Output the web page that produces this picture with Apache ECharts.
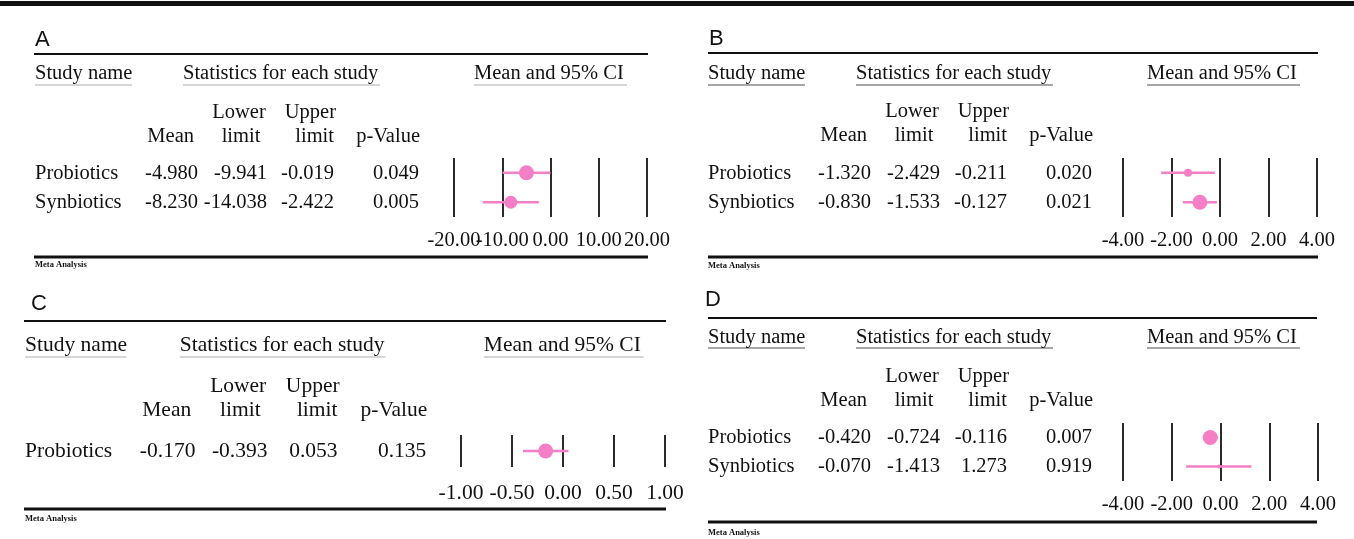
<!DOCTYPE html>
<html><head><meta charset="utf-8">
<script src="https://cdn.jsdelivr.net/npm/echarts@6/dist/echarts.min.js"></script>
<style>html,body{margin:0;padding:0;background:#fff}#c{width:1354px;height:539px}</style>
</head><body><div id="c"></div>
<script>
// ---------------- data ----------------
const studiesA = ['Probiotics', 'Synbiotics'];
const meanA = [-4.980, -8.230];
const lowerA = [-9.941, -14.038];
const upperA = [-0.019, -2.422];
const pValueA = [0.049, 0.005];
const axisA = { min: -20, max: 20, interval: 10 };

const studiesB = ['Probiotics', 'Synbiotics'];
const meanB = [-1.320, -0.830];
const lowerB = [-2.429, -1.533];
const upperB = [-0.211, -0.127];
const pValueB = [0.020, 0.021];
const axisB = { min: -4, max: 4, interval: 2 };

const studiesC = ['Probiotics'];
const meanC = [-0.170];
const lowerC = [-0.393];
const upperC = [0.053];
const pValueC = [0.135];
const axisC = { min: -1, max: 1, interval: 0.5 };

const studiesD = ['Probiotics', 'Synbiotics'];
const meanD = [-0.420, -0.070];
const lowerD = [-0.724, -1.413];
const upperD = [-0.116, 1.273];
const pValueD = [0.007, 0.919];
const axisD = { min: -4, max: 4, interval: 2 };

const panelLetters = ['A', 'B', 'C', 'D'];
const headerTitles = ['Study name', 'Statistics for each study', 'Mean and 95% CI'];
const colTop = ['Lower', 'Upper'];
const colBottom = ['Mean', 'limit', 'limit', 'p-Value'];
const footerText = 'Meta Analysis';

// ---------------- styles / layout ----------------
const PINK = '#f57fc6', INK = '#111111', GRIDC = '#2a2a2a';
const SERIF = '"Liberation Serif","Times New Roman",serif';
const SANS = '"Liberation Sans",Arial,sans-serif';

const panels = [
  { d: [studiesA, meanA, lowerA, upperA, pValueA, axisA], fx: x => x, fs: 20.5,
    letterX: 35, rule: [34, 648], ulColor: '#c8c8c8', grid: [454, 647], sizes: [15, 13],
    y: { letter: 39.5, rule: 54, head: 74, ul: 85, top1: 113, top2: 137, gTop: 158, gBot: 217, label: 24, bot: 257, meta: 265 } },
  { d: [studiesB, meanB, lowerB, upperB, pValueB, axisB], fx: x => x + 673, fs: 20.5,
    letterX: 709, rule: [708, 1318], ulColor: '#8a8a8a', grid: [1123, 1317], sizes: [8, 15],
    y: { letter: 39, rule: 53, head: 74, ul: 85, top1: 112, top2: 136, gTop: 158, gBot: 217, label: 24, bot: 257, meta: 266 } },
  { d: [studiesC, meanC, lowerC, upperC, pValueC, axisC], fx: x => 24 + (x - 34) * 1.045, fs: 21.5,
    letterX: 31, rule: [24, 666], ulColor: '#c8c8c8', grid: [461, 665], sizes: [15],
    y: { letter: 304, rule: 321, head: 345, ul: 357, top1: 386, top2: 410, gTop: 435, gBot: 467, label: 26, bot: 509, meta: 519 } },
  { d: [studiesD, meanD, lowerD, upperD, pValueD, axisD], fx: x => x + 673, fs: 20.5,
    letterX: 705, rule: [708, 1317], ulColor: '#8a8a8a', grid: [1123, 1318], sizes: [15, 4],
    y: { letter: 300, rule: 318, head: 338, ul: 348, top1: 377, top2: 401, gTop: 423, gBot: 481, label: 24, bot: 522, meta: 533 } }
];

// base x positions (panel A coordinates)
const BX = { name: 35, stats: 183, ci: 474, ulName: [35, 132], ulStats: [183, 380], ulCi: [474, 627],
  hMean: 194, hLower: 239, hLimit1: 241, hUpper: 336, hLimit2: 334, hP: 420,
  vMean: 198, vLower: 267, vUpper: 334, vP: 419, meta: 35 };

function txt(text, x, y, fs, align, opts) {
  opts = opts || {};
  return { type: 'text', silent: true, x: x, y: y, z: 10,
    style: { text: text, fontSize: fs, fontFamily: opts.family || SERIF, fontWeight: opts.weight || 'normal',
      fill: opts.fill || INK, align: align, textAlign: align, verticalAlign: 'middle', textVerticalAlign: 'middle' } };
}
function ln(x1, y1, x2, y2, w, c) {
  return { type: 'line', silent: true, z: 5, shape: { x1: x1, y1: y1, x2: x2, y2: y2 }, style: { stroke: c, lineWidth: w } };
}

const graphics = [{ type: 'rect', silent: true, shape: { x: 0, y: 1, width: 1354, height: 5 }, style: { fill: INK } }];
const grids = [], xAxes = [], yAxes = [], series = [];

panels.forEach((p, k) => {
  const [studies, mean, lower, upper, pv, ax] = p.d;
  const fx = p.fx, fs = p.fs, Y = p.y;
  graphics.push(txt(panelLetters[k], p.letterX, Y.letter, 22, 'left', { family: SANS }));
  graphics.push(ln(p.rule[0], Y.rule, p.rule[1], Y.rule, 2, INK));
  graphics.push(ln(p.rule[0], Y.bot, p.rule[1], Y.bot, 3, INK));
  graphics.push(txt(footerText, fx(BX.meta), Y.meta, 8.5, 'left', { weight: 'bold' }));
  graphics.push(txt(headerTitles[0], fx(BX.name), Y.head, fs, 'left'));
  graphics.push(txt(headerTitles[1], fx(BX.stats), Y.head, fs, 'left'));
  graphics.push(txt(headerTitles[2], fx(BX.ci), Y.head, fs, 'left'));
  [BX.ulName, BX.ulStats, BX.ulCi].forEach(u => graphics.push(ln(fx(u[0]), Y.ul, fx(u[1]), Y.ul, 1.5, p.ulColor)));
  graphics.push(txt(colTop[0], fx(BX.hLower), Y.top1, fs, 'center'));
  graphics.push(txt(colTop[1], fx(BX.hUpper), Y.top1, fs, 'right'));
  graphics.push(txt(colBottom[0], fx(BX.hMean), Y.top2, fs, 'right'));
  graphics.push(txt(colBottom[1], fx(BX.hLimit1), Y.top2, fs, 'center'));
  graphics.push(txt(colBottom[2], fx(BX.hLimit2), Y.top2, fs, 'right'));
  graphics.push(txt(colBottom[3], fx(BX.hP), Y.top2, fs, 'right'));
  const rowH = (Y.gBot - Y.gTop) / studies.length;
  studies.forEach((s, i) => {
    const ry = Y.gTop + (i + 0.5) * rowH + 0.5;
    graphics.push(txt(s, fx(BX.name), ry, fs, 'left'));
    graphics.push(txt(mean[i].toFixed(3), fx(BX.vMean), ry, fs, 'right'));
    graphics.push(txt(lower[i].toFixed(3), fx(BX.vLower), ry, fs, 'right'));
    graphics.push(txt(upper[i].toFixed(3), fx(BX.vUpper), ry, fs, 'right'));
    graphics.push(txt(pv[i].toFixed(3), fx(BX.vP), ry, fs, 'right'));
  });

  grids.push({ left: p.grid[0], width: p.grid[1] - p.grid[0], top: Y.gTop, height: Y.gBot - Y.gTop,
    containLabel: false, outerBoundsMode: 'none', show: false });
  // two x axes on the same scale: one carries even ticks' labels, the other odd ones,
  // so that overlapping neighbour labels (as in panel A) are all drawn.
  [0, 1].forEach(par => {
    xAxes.push({ type: 'value', gridIndex: k, position: 'bottom', min: ax.min, max: ax.max, interval: ax.interval,
      axisLine: { show: false }, axisTick: { show: false },
      splitLine: { show: par === 0, lineStyle: { color: GRIDC, width: 2 } },
      axisLabel: { show: true, showMinLabel: true, showMaxLabel: true, hideOverlap: false,
        formatter: v => (Math.round((v - ax.min) / ax.interval) % 2 === par ? v.toFixed(2) : ''),
        fontFamily: SERIF, fontSize: fs, color: INK, verticalAlign: 'middle', margin: Y.label } });
  });
  yAxes.push({ type: 'category', gridIndex: k, data: studies, inverse: true, show: false,
    axisLine: { show: false }, axisTick: { show: false }, axisLabel: { show: false }, splitLine: { show: false } });

  series.push({ type: 'custom', xAxisIndex: 2 * k, yAxisIndex: k, silent: true, z: 3,
    data: studies.map((s, i) => [lower[i], upper[i], i]),
    encode: { x: [0, 1], y: 2 },
    renderItem: function (params, api) {
      const a = api.coord([api.value(0), api.value(2)]);
      const b = api.coord([api.value(1), api.value(2)]);
      return { type: 'line', shape: { x1: a[0], y1: a[1], x2: b[0], y2: b[1] }, style: { stroke: PINK, lineWidth: 2.5 } };
    } });
  const sizes = p.sizes;
  series.push({ type: 'scatter', xAxisIndex: 2 * k, yAxisIndex: k, silent: true, z: 4,
    data: studies.map((s, i) => [mean[i], i]),
    symbol: 'circle', symbolSize: (v, prm) => sizes[prm.dataIndex],
    itemStyle: { color: PINK, opacity: 1 } });
});

const chart = echarts.init(document.getElementById('c'), null, { renderer: 'canvas' });
chart.setOption({
  animation: false, backgroundColor: '#ffffff',
  grid: grids, xAxis: xAxes, yAxis: yAxes, series: series, graphic: { elements: graphics }
});
</script></body></html>
